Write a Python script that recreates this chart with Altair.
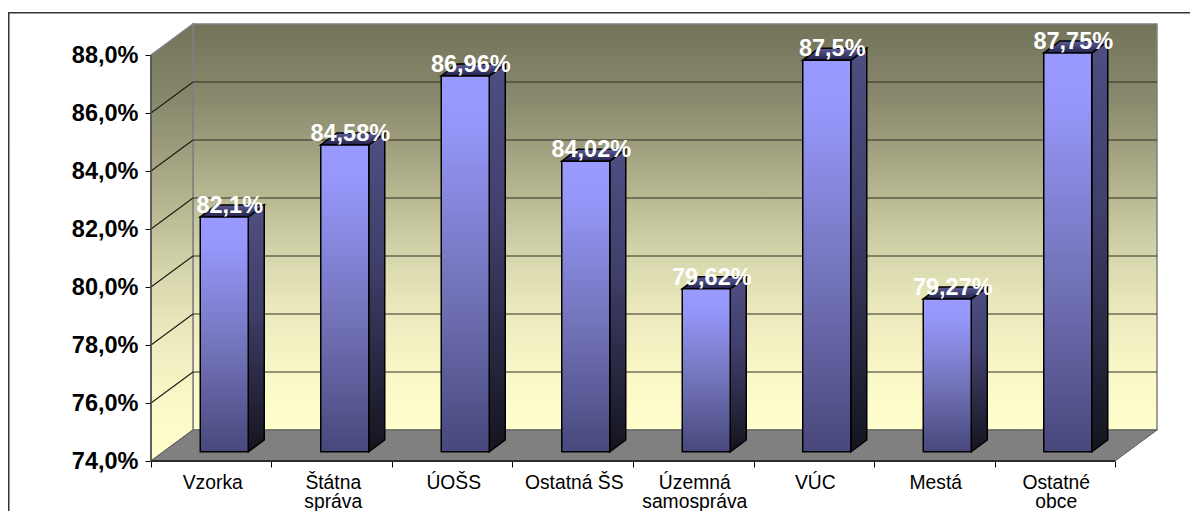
import json
import altair as alt
import pandas as pd

categories = ["Vzorka", "Štátna\nspráva", "ÚOŠS", "Ostatná ŠS", "Územná\nsamospráva", "VÚC", "Mestá", "Ostatné\nobce"]
values = [82.1, 84.58, 86.96, 84.02, 79.62, 87.5, 79.27, 87.75]
y_ticks = [74, 76, 78, 80, 82, 84, 86, 88]
grid_levels = [76, 78, 80, 82, 84, 86]
x_ticks = list(range(9))
FONT = "Liberation Sans"

W, H = 1006, 437
SLOT, PCT = 120.5, 29.0
Y0, Y1 = 74.0, 88.0
WALL_DX, WALL_DY = 42 / SLOT, 31 / PCT      # depth of the box
BAR_W = 48 / SLOT
BAR_DX, BAR_DY = 16 / SLOT, 12 / PCT        # depth of one column
SHIFT_DX, SHIFT_DY = 13 / SLOT, 9.2 / PCT   # column position inside the box

xs = alt.Scale(domain=[0, W / SLOT], nice=False, zero=False)
ys = alt.Scale(domain=[Y0, Y0 + H / PCT], nice=False, zero=False)

x_label_expr = "split(" + json.dumps(categories, ensure_ascii=False) + "[datum.value] || '', '\\n')"

x_axis = alt.Axis(
    values=x_ticks, title=None, grid=False, domain=False,
    tickSize=6, tickColor="#000000", tickWidth=1,
    labelExpr=x_label_expr, labelOffset=SLOT / 2 + 1, labelAlign="center", labelBaseline="top",
    labelFont=FONT, labelFontSize=19.3, labelColor="#000000", labelPadding=6,
    labelLineHeight=19.5, labelOverlap=False, labelFlush=False, labelBound=False,
)
y_axis = alt.Axis(
    values=y_ticks, title=None, grid=False, domain=False,
    tickSize=6, tickColor="#000000", tickWidth=1,
    labelExpr="replace(format(datum.value, '.1f'), '.', ',') + '%'",
    labelFont=FONT, labelFontWeight="bold", labelFontSize=23.5, labelColor="#000000",
    labelPadding=7, labelOverlap=False, labelBound=False,
)


def X(f):
    return alt.X(f, type="quantitative", scale=xs, axis=x_axis)


def Yy(f):
    return alt.Y(f, type="quantitative", scale=ys, axis=y_axis)


def grad(*stops):
    return alt.LinearGradient(
        gradient="linear", x1=0, x2=0, y1=0, y2=1,
        stops=[alt.GradientStop(color=c, offset=o) for o, c in stops],
    )


wall_grad = grad((0, "#73735a"), (0.19, "#8a8a6e"), (0.43, "#b9b993"), (0.57, "#d6d6ad"),
                 (0.7, "#ebe9bc"), (0.85, "#f9f7c7"), (1, "#ffffcc"))
front_grad = grad((0, "#9999ff"), (0.12, "#9797fb"), (0.55, "#7474bb"), (1, "#48487c"))
side_grad = grad((0, "#4e4e82"), (0.4, "#40406c"), (1, "#14141f"))
top_grad = grad((0, "#5c5c98"), (1, "#22224a"))

# frame round the whole picture
frame = alt.Chart(pd.DataFrame({"a": [0]})).mark_rect(
    fillOpacity=0, stroke="#333333", strokeWidth=1.6
).encode(x=alt.value(-142.3), x2=alt.value(1200), y=alt.value(-11.3), y2=alt.value(600))

# back wall
back = alt.Chart(pd.DataFrame({"x": [WALL_DX], "x2": [W / SLOT], "y": [Y0 + WALL_DY], "y2": [Y1 + WALL_DY]})).mark_rect(
    fill=wall_grad, stroke="#808080", strokeWidth=1.5
).encode(x=X("x"), x2="x2:Q", y=Yy("y"), y2="y2:Q")

# left wall
left = alt.Chart(pd.DataFrame({"x": [0, WALL_DX], "lo": [Y0, Y0 + WALL_DY], "hi": [Y1, Y1 + WALL_DY]})).mark_area(
    fill=wall_grad, stroke="#808080", strokeWidth=1.5, orient="vertical", interpolate="linear"
).encode(x=X("x"), y=Yy("hi"), y2="lo:Q")

# floor
floor = alt.Chart(pd.DataFrame({
    "y": [Y0, Y0 + WALL_DY], "xl": [0, WALL_DX], "xr": [8, 8 + WALL_DX],
})).mark_area(fill="#808080", stroke="#5c5c5c", strokeWidth=1, orient="horizontal", interpolate="linear").encode(
    y=Yy("y"), x=X("xl"), x2="xr:Q"
)

# grid: back wall and left wall
grid_back = alt.Chart(pd.DataFrame({
    "y": [v + WALL_DY for v in grid_levels], "x": [WALL_DX] * len(grid_levels), "x2": [W / SLOT] * len(grid_levels),
})).mark_rule(color="#2e2e22", strokeWidth=1.2).encode(x=X("x"), x2="x2:Q", y=Yy("y"))

grid_left_df = pd.DataFrame(
    [{"lvl": v, "x": 0, "y": v} for v in grid_levels]
    + [{"lvl": v, "x": WALL_DX, "y": v + WALL_DY} for v in grid_levels]
)
grid_left = alt.Chart(grid_left_df).mark_line(color="#1c1c14", strokeWidth=1.1).encode(
    x=X("x"), y=Yy("y"), detail="lvl:N"
)

# front edges of the box
edge_left = alt.Chart(pd.DataFrame({"x": [0], "y": [Y0], "y2": [Y1]})).mark_rule(color="#4a4a4a", strokeWidth=1.5).encode(
    x=X("x"), y=Yy("y"), y2="y2:Q"
)
edge_bottom = alt.Chart(pd.DataFrame({"x": [0], "x2": [8], "y": [Y0]})).mark_rule(color="#2e2e2e", strokeWidth=2).encode(
    x=X("x"), x2="x2:Q", y=Yy("y")
)

# columns
rows = []
for i, v in enumerate(values):
    left_x = i + 0.5 - BAR_W / 2 + SHIFT_DX
    rows.append({
        "i": i, "value": v, "xl": left_x, "xr": left_x + BAR_W,
        "lo": Y0 + SHIFT_DY, "hi": v + SHIFT_DY,
        "mid": left_x + BAR_W / 2,
        "label": str(v).replace(".", ",") + "%",
    })
bars = pd.DataFrame(rows)

side_rows, top_rows = [], []
for r in rows:
    side_rows += [
        {"i": r["i"], "x": r["xr"], "lo": r["lo"], "hi": r["hi"]},
        {"i": r["i"], "x": r["xr"] + BAR_DX, "lo": r["lo"] + BAR_DY, "hi": r["hi"] + BAR_DY},
    ]
    top_rows += [
        {"i": r["i"], "y": r["hi"], "xl": r["xl"], "xr": r["xr"]},
        {"i": r["i"], "y": r["hi"] + BAR_DY, "xl": r["xl"] + BAR_DX, "xr": r["xr"] + BAR_DX},
    ]

side = alt.Chart(pd.DataFrame(side_rows)).mark_area(
    fill=side_grad, stroke="#000000", strokeWidth=1.5, orient="vertical", interpolate="linear"
).encode(x=X("x"), y=Yy("hi"), y2="lo:Q", detail="i:N")

top = alt.Chart(pd.DataFrame(top_rows)).mark_area(
    fill=top_grad, stroke="#000000", strokeWidth=1.5, orient="horizontal", interpolate="linear"
).encode(y=Yy("y"), x=X("xl"), x2="xr:Q", detail="i:N")

front = alt.Chart(bars).mark_rect(fill=front_grad, stroke="#000000", strokeWidth=1.5).encode(
    x=X("xl"), x2="xr:Q", y=Yy("lo"), y2="hi:Q"
)

labels = alt.Chart(bars).mark_text(
    font=FONT, fontWeight="bold", fontSize=23.5, color="#ffffff", baseline="middle", align="center", dx=5.5, dy=-11
).encode(x=X("mid"), y=Yy("hi"), text="label:N")

chart = alt.layer(
    frame, back, left, floor, grid_back, grid_left, edge_left, edge_bottom, side, top, front, labels
).properties(
    width=W, height=H,
    padding={"left": 143, "top": 16, "right": 33, "bottom": 50},
    autosize=alt.AutoSizeParams(type="none"),
    background="#ffffff",
).configure_view(stroke=None)

chart.save("out.html", embed_options={"renderer": "svg", "actions": False})
